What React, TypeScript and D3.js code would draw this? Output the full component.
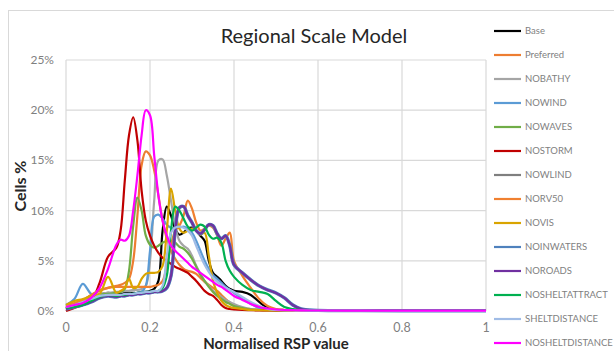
import React from "react";
import * as d3 from "d3";

// x positions (normalised RSP value) shared by all series
const xs = [
  0, 0.02, 0.04, 0.06, 0.08, 0.1, 0.12, 0.13, 0.14, 0.15, 0.16, 0.17, 0.18, 0.19, 0.2, 0.21, 0.22,
  0.23, 0.24, 0.25, 0.26, 0.27, 0.28, 0.29, 0.3, 0.31, 0.32, 0.33, 0.34, 0.35, 0.36, 0.37, 0.38,
  0.39, 0.4, 0.42, 0.44, 0.46, 0.48, 0.5, 0.52, 0.54, 0.56, 0.58, 0.6, 0.7, 0.8, 0.9, 1,
];

// cells % per series
const base = [0.3, 0.5, 0.8, 1.2, 1.6, 1.8, 1.7, 1.7, 1.8, 1.8, 1.8, 1.8, 1.9, 1.9, 2.0, 2.2, 3.0, 8.0, 10.4, 9.5, 8.2, 7.6, 7.8, 8.2, 8.3, 8.0, 7.5, 7.0, 5.0, 3.8, 3.4, 3.0, 2.5, 2.2, 2.0, 1.9, 1.6, 0.9, 0.3, 0.15, 0.1, 0.08, 0.06, 0.05, 0.05, 0.03, 0.02, 0.02, 0.02];
const preferred = [0.3, 0.6, 1.0, 1.6, 2.0, 2.3, 2.5, 2.6, 2.8, 3.2, 5.0, 9.5, 14.5, 15.9, 15.5, 14.0, 11.5, 9.0, 7.2, 6.0, 5.2, 4.6, 4.2, 4.0, 3.9, 3.7, 3.3, 2.9, 2.6, 2.3, 2.0, 1.6, 1.2, 0.8, 0.5, 0.3, 0.2, 0.12, 0.08, 0.06, 0.05, 0.05, 0.04, 0.04, 0.03, 0.03, 0.02, 0.02, 0.02];
const nobathy = [0.5, 0.7, 1.0, 1.4, 1.7, 1.8, 1.9, 1.9, 2.0, 2.0, 2.1, 2.1, 2.2, 2.5, 5.0, 11.0, 15.0, 15.1, 13.5, 11.0, 8.5, 7.0, 6.5, 6.2, 5.5, 4.5, 3.7, 3.0, 2.5, 2.0, 1.7, 1.4, 1.1, 0.9, 0.7, 0.4, 0.2, 0.12, 0.08, 0.06, 0.05, 0.05, 0.04, 0.04, 0.03, 0.03, 0.02, 0.02, 0.02];
const nowind = [0.6, 1.2, 2.7, 1.7, 1.5, 1.5, 1.5, 1.5, 1.6, 1.6, 1.7, 1.8, 1.9, 2.5, 6.0, 9.4, 9.6, 9.2, 8.6, 8.3, 8.2, 8.3, 8.4, 8.2, 7.8, 7.0, 6.0, 5.0, 4.2, 3.6, 3.2, 2.8, 2.4, 2.1, 1.8, 1.2, 0.7, 0.3, 0.15, 0.08, 0.06, 0.05, 0.05, 0.04, 0.04, 0.03, 0.02, 0.02, 0.02];
const nowaves = [0.4, 0.6, 0.9, 1.3, 1.6, 1.7, 1.8, 1.9, 2.2, 4.0, 8.5, 11.3, 10.0, 7.5, 6.6, 6.3, 6.5, 6.8, 7.0, 7.0, 6.8, 6.4, 6.2, 5.8, 5.2, 4.4, 3.6, 3.0, 2.4, 1.9, 1.5, 1.2, 0.9, 0.7, 0.5, 0.3, 0.15, 0.1, 0.08, 0.06, 0.05, 0.05, 0.04, 0.04, 0.03, 0.03, 0.02, 0.02, 0.02];
const nostorm = [0.0, 0.3, 0.6, 1.0, 2.8, 5.4, 6.3, 8.0, 13.0, 17.5, 19.3, 17.0, 12.0, 9.0, 7.5, 6.5, 5.8, 5.3, 5.0, 4.7, 4.4, 4.2, 4.0, 3.8, 3.4, 3.0, 2.5, 2.0, 1.7, 1.5, 1.1, 0.6, 0.3, 0.2, 0.15, 0.1, 0.08, 0.06, 0.05, 0.05, 0.04, 0.04, 0.03, 0.03, 0.03, 0.02, 0.02, 0.02, 0.02];
const nowlind = [0.2, 0.4, 0.6, 0.9, 1.3, 1.5, 1.4, 1.5, 1.5, 1.6, 1.6, 1.7, 1.7, 1.8, 1.8, 1.9, 1.9, 2.0, 2.3, 3.4, 7.8, 10.2, 10.4, 9.5, 8.8, 8.0, 7.7, 8.1, 8.6, 8.5, 7.7, 7.2, 7.5, 6.5, 4.6, 3.8, 3.1, 2.5, 2.1, 1.8, 1.3, 0.6, 0.2, 0.1, 0.06, 0.04, 0.03, 0.03, 0.03];
const norv50 = [0.5, 0.8, 1.1, 1.6, 2.1, 2.3, 2.4, 2.4, 2.4, 2.4, 2.4, 2.4, 2.4, 2.4, 2.4, 2.5, 2.6, 3.0, 4.5, 6.5, 8.0, 8.5, 9.5, 11.0, 10.2, 8.8, 8.0, 8.2, 8.5, 8.3, 7.5, 6.5, 7.2, 7.8, 5.0, 3.5, 2.3, 1.2, 0.5, 0.2, 0.1, 0.08, 0.06, 0.05, 0.05, 0.03, 0.02, 0.02, 0.02];
const novis = [0.6, 1.0, 1.2, 1.5, 1.7, 3.4, 1.8, 2.0, 2.3, 3.2, 2.3, 2.4, 3.2, 3.7, 3.8, 3.8, 3.9, 4.5, 8.0, 12.2, 10.0, 8.2, 7.8, 8.0, 8.2, 8.0, 7.6, 7.8, 5.5, 3.0, 1.8, 1.0, 0.6, 0.4, 0.3, 0.2, 0.1, 0.08, 0.06, 0.05, 0.05, 0.04, 0.04, 0.03, 0.03, 0.03, 0.02, 0.02, 0.02];
const noinwaters = [0.2, 0.4, 0.6, 0.9, 1.3, 1.5, 1.4, 1.5, 1.5, 1.6, 1.6, 1.7, 1.7, 1.8, 1.8, 1.9, 1.9, 2.0, 2.3, 3.5, 8.0, 10.3, 10.4, 9.5, 8.8, 8.0, 7.7, 8.1, 8.6, 8.5, 7.7, 7.2, 7.5, 6.5, 4.6, 3.8, 3.1, 2.5, 2.1, 1.8, 1.3, 0.6, 0.2, 0.1, 0.06, 0.04, 0.03, 0.03, 0.03];
const noroads = [0.2, 0.4, 0.6, 0.9, 1.3, 1.5, 1.4, 1.5, 1.5, 1.6, 1.6, 1.7, 1.7, 1.8, 1.8, 1.9, 1.9, 2.0, 2.3, 3.5, 8.0, 10.3, 10.4, 9.5, 8.8, 8.0, 7.7, 8.1, 8.6, 8.5, 7.7, 7.2, 7.5, 6.5, 4.6, 3.8, 3.1, 2.5, 2.1, 1.8, 1.3, 0.6, 0.2, 0.1, 0.06, 0.04, 0.03, 0.03, 0.03];
const nosheltattract = [0.3, 0.4, 0.6, 1.0, 1.4, 1.6, 1.5, 1.6, 1.6, 1.7, 1.7, 1.8, 1.8, 1.9, 1.9, 2.0, 2.0, 2.3, 3.5, 8.0, 10.4, 10.0, 9.2, 8.4, 8.0, 8.3, 8.6, 8.4, 7.6, 7.2, 7.3, 6.8, 5.0, 4.0, 3.4, 2.6, 2.1, 1.9, 1.7, 1.0, 0.4, 0.2, 0.1, 0.06, 0.05, 0.04, 0.03, 0.03, 0.03];
const sheltdistance = [0.4, 0.6, 0.9, 1.2, 1.5, 1.6, 1.6, 1.6, 1.7, 1.7, 1.7, 1.8, 1.8, 1.9, 1.9, 2.0, 2.0, 2.5, 5.5, 7.8, 8.3, 8.4, 8.3, 8.0, 7.5, 6.5, 5.5, 4.6, 3.9, 3.3, 2.9, 2.6, 2.3, 2.1, 1.9, 1.4, 0.9, 0.5, 0.2, 0.1, 0.06, 0.05, 0.04, 0.04, 0.03, 0.03, 0.02, 0.02, 0.02];
const nosheltdistance = [0.4, 0.6, 0.8, 1.3, 2.3, 4.2, 6.6, 7.1, 7.0, 7.5, 10.0, 13.5, 17.5, 20.0, 19.5, 15.5, 11.5, 9.0, 7.5, 6.5, 6.0, 5.6, 5.2, 4.8, 4.4, 4.1, 3.8, 3.5, 3.2, 2.9, 2.6, 2.4, 2.1, 1.8, 1.5, 1.1, 0.7, 0.4, 0.25, 0.15, 0.1, 0.08, 0.06, 0.05, 0.05, 0.04, 0.03, 0.03, 0.03];

const seriesNames = [
  "Base", "Preferred", "NOBATHY", "NOWIND", "NOWAVES", "NOSTORM", "NOWLIND",
  "NORV50", "NOVIS", "NOINWATERS", "NOROADS", "NOSHELTATTRACT", "SHELTDISTANCE", "NOSHELTDISTANCE",
];
const seriesValues = [
  base, preferred, nobathy, nowind, nowaves, nostorm, nowlind,
  norv50, novis, noinwaters, noroads, nosheltattract, sheltdistance, nosheltdistance,
];
const seriesColors = [
  "#000000", "#ED7D31", "#A5A5A5", "#5B9BD5", "#70AD47", "#C00000", "#7F7F7F",
  "#F08030", "#D9A400", "#4F81BD", "#7030A0", "#00B050", "#A0BCE6", "#FF00FF",
];

const xTicks = [0, 0.2, 0.4, 0.6, 0.8, 1];
const yTicks = [0, 5, 10, 15, 20, 25];

const font = "Lato, 'Open Sans', sans-serif";

export default function App() {
  const plot = { left: 66, right: 486, top: 60, bottom: 311 };

  const x = d3.scaleLinear().domain([0, 1]).range([plot.left, plot.right]);
  const y = d3.scaleLinear().domain([0, 25]).range([plot.bottom, plot.top]);

  const line = d3
    .line<number>()
    .x((_, i) => x(xs[i]))
    .y((d) => y(d))
    .curve(d3.curveCatmullRom.alpha(0.5));

  const legendX = 494;
  const legendTop = 31;
  const legendStep = 24;

  return (
    <svg
      width={614}
      height={351}
      style={{ position: "absolute", left: 0, top: 0, background: "#fff" }}
    >
      {/* chart border */}
      <rect x={8.5} y={10.5} width={620} height={360} fill="#fff" stroke="#D9D9D9" />

      <text
        x={314}
        y={43}
        textAnchor="middle"
        fontFamily={font}
        fontSize={20}
        fill="#262626"
      >
        Regional Scale Model
      </text>

      {/* gridlines */}
      {yTicks.map((t) => (
        <line
          key={"gy" + t}
          x1={plot.left}
          x2={plot.right}
          y1={y(t)}
          y2={y(t)}
          stroke="#D9D9D9"
          strokeWidth={1.2}
        />
      ))}
      {xTicks.map((t) => (
        <line
          key={"gx" + t}
          x1={x(t)}
          x2={x(t)}
          y1={plot.top}
          y2={plot.bottom}
          stroke="#D9D9D9"
          strokeWidth={1.2}
        />
      ))}

      {/* tick labels */}
      {yTicks.map((t) => (
        <text
          key={"ty" + t}
          x={54}
          y={y(t) + 4}
          textAnchor="end"
          fontFamily={font}
          fontSize={12}
          fill="#7F7F7F"
        >
          {t + "%"}
        </text>
      ))}
      {xTicks.map((t) => (
        <text
          key={"tx" + t}
          x={x(t)}
          y={332}
          textAnchor="middle"
          fontFamily={font}
          fontSize={12.5}
          fill="#7F7F7F"
        >
          {String(t)}
        </text>
      ))}

      {/* series */}
      {seriesValues.map((vals, i) => (
        <path
          key={seriesNames[i]}
          d={line(vals) || ""}
          fill="none"
          stroke={seriesColors[i]}
          strokeWidth={seriesNames[i] === "NOINWATERS" ? 3.4 : 2.2}
          strokeLinejoin="round"
        />
      ))}

      {/* axis titles */}
      <text
        x={276}
        y={349}
        textAnchor="middle"
        fontFamily={font}
        fontSize={15}
        fontWeight="bold"
        fill="#262626"
      >
        Normalised RSP value
      </text>
      <text
        transform="translate(26,186) rotate(-90)"
        textAnchor="middle"
        fontFamily={font}
        fontSize={16}
        fontWeight="bold"
        fill="#262626"
      >
        Cells %
      </text>

      {/* legend */}
      {seriesNames.map((name, i) => (
        <g key={"lg" + name} transform={`translate(${legendX},${legendTop + i * legendStep})`}>
          <line x1={0} x2={27} y1={0} y2={0} stroke={seriesColors[i]} strokeWidth={2.2} />
          <text x={31} y={3} fontFamily={font} fontSize={9.5} fill="#7F7F7F">
            {name}
          </text>
        </g>
      ))}
    </svg>
  );
}
